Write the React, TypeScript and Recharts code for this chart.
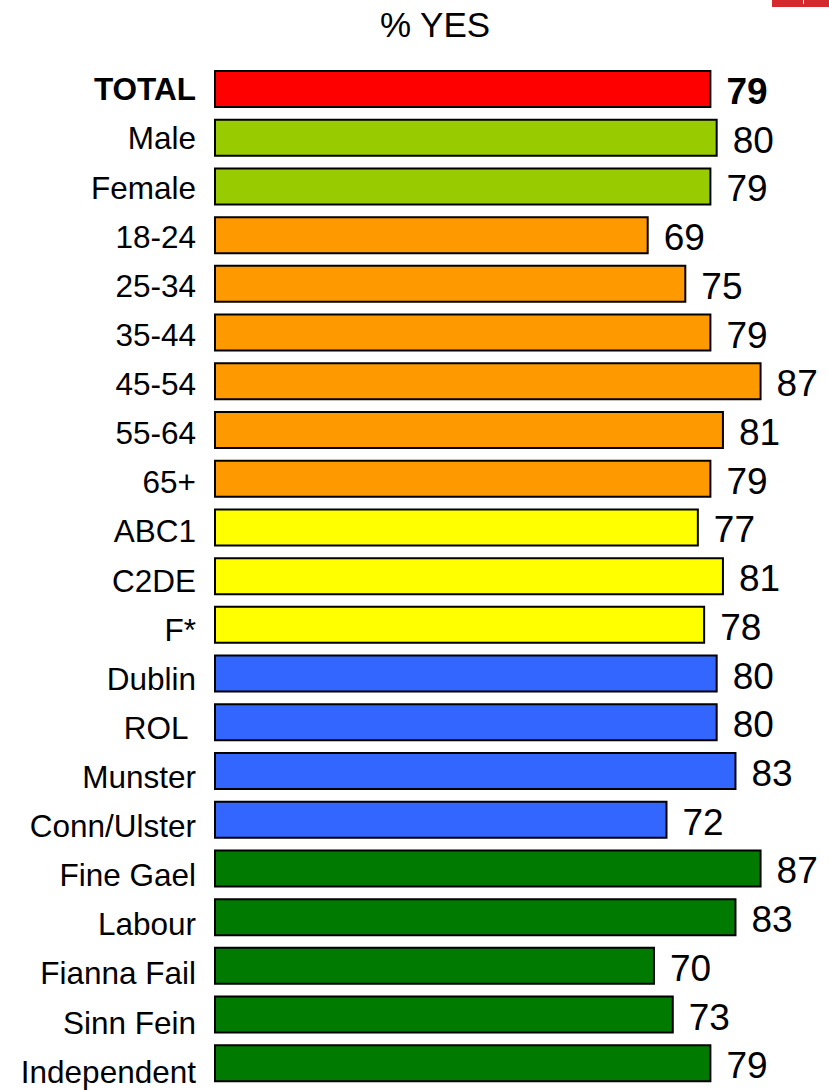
import React from 'react';
import { BarChart, Bar, XAxis, YAxis, Cell, LabelList } from 'recharts';

const categories = [
  'TOTAL', 'Male', 'Female', '18-24', '25-34', '35-44', '45-54', '55-64', '65+',
  'ABC1', 'C2DE', 'F*', 'Dublin', 'ROL ', 'Munster', 'Conn/Ulster',
  'Fine Gael', 'Labour', 'Fianna Fail', 'Sinn Fein', 'Independent',
];
const yesValues = [79, 80, 79, 69, 75, 79, 87, 81, 79, 77, 81, 78, 80, 80, 83, 72, 87, 83, 70, 73, 79];
const groupColors = [
  '#FF0000', '#99CC00', '#99CC00', '#FF9900', '#FF9900', '#FF9900', '#FF9900', '#FF9900', '#FF9900',
  '#FFFF00', '#FFFF00', '#FFFF00', '#3366FF', '#3366FF', '#3366FF', '#3366FF',
  '#007A00', '#007A00', '#007A00', '#007A00', '#007A00',
];

const data = categories.map((name, i) => ({ name, value: yesValues[i] }));

const FONT = '"Liberation Sans", Arial, Helvetica, sans-serif';

const CategoryTick = (props: any) => {
  const { x, y, payload, index } = props;
  const bold = payload.value === 'TOTAL';
  return (
    <text
      x={x - 11}
      y={y}
      dy={11 + index * 0.4}
      textAnchor="end"
      fontFamily={FONT}
      fontSize={31.5}
      fontWeight={bold ? 700 : 400}
      fill="#000"
      xmlSpace="preserve"
      style={{ whiteSpace: 'pre' }}
    >
      {payload.value}
    </text>
  );
};

const ValueLabel = (props: any) => {
  const { x, y, width, height, value, index } = props;
  const bold = index === 0;
  return (
    <text
      x={x + width + 16}
      y={y + height / 2}
      dy={15}
      textAnchor="start"
      fontFamily={FONT}
      fontSize={37}
      fontWeight={bold ? 700 : 400}
      fill="#000"
    >
      {value}
    </text>
  );
};

export default function App() {
  return (
    <div style={{ position: 'relative', width: 829, height: 1090, background: '#fff', overflow: 'hidden' }}>
      <style>{`html,body{margin:0;padding:0;overflow:hidden;background:#fff;}`}</style>
      <div
        style={{
          position: 'absolute',
          left: 772,
          top: 0,
          width: 57,
          height: 7,
          background: '#D42A2E',
        }}
      >
        <div style={{ position: 'absolute', left: 31, top: 0, width: 1, height: 4, background: '#fff' }} />
      </div>
      <div
        style={{
          position: 'absolute',
          left: 335,
          top: 7,
          width: 200,
          textAlign: 'center',
          fontFamily: FONT,
          fontSize: 35,
          lineHeight: '35px',
          color: '#000',
        }}
      >
        % YES
      </div>
      <BarChart
        width={829}
        height={1090}
        data={data}
        layout="vertical"
        margin={{ top: 65, right: 12, bottom: 2, left: 0 }}
      >
        <XAxis type="number" domain={[0, 96]} hide />
        <YAxis
          type="category"
          dataKey="name"
          width={215}
          axisLine={false}
          tickLine={false}
          interval={0}
          tick={<CategoryTick />}
        />
        <Bar dataKey="value" barSize={36} stroke="#000" strokeWidth={2} isAnimationActive={false}>
          {data.map((d, i) => (
            <Cell key={d.name} fill={groupColors[i]} />
          ))}
          <LabelList dataKey="value" content={<ValueLabel />} />
        </Bar>
      </BarChart>
    </div>
  );
}
